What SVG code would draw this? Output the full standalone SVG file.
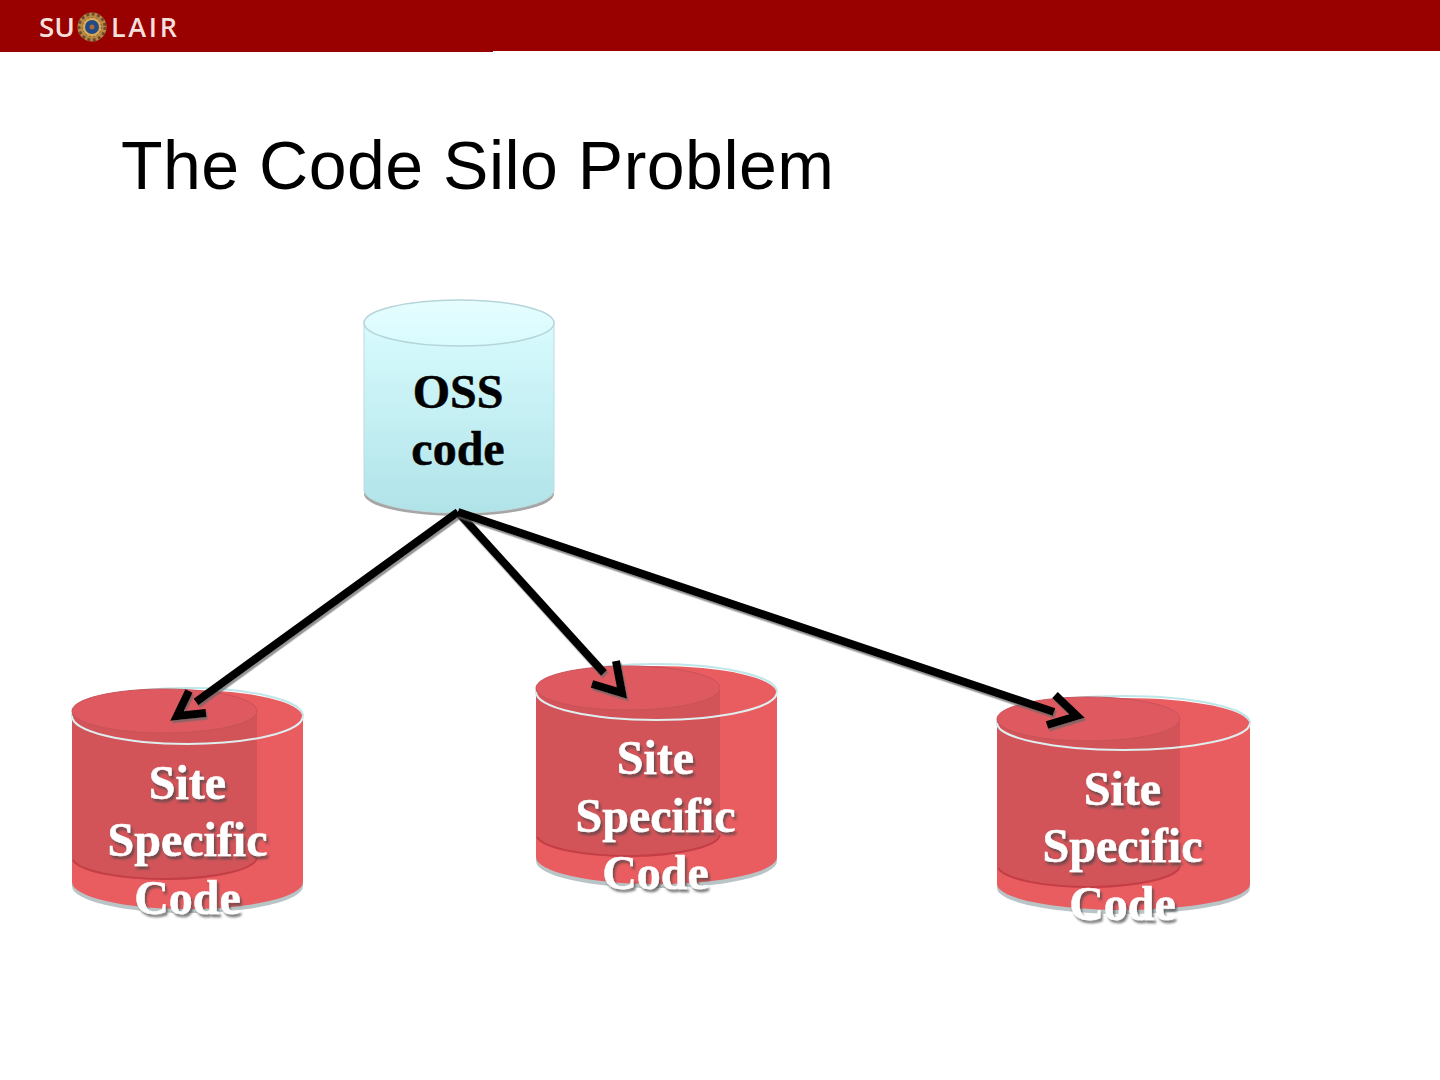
<svg xmlns="http://www.w3.org/2000/svg" width="1440" height="1080" viewBox="0 0 1440 1080">
<style>
.lbl{font-family:"Liberation Serif","Times New Roman",serif;font-weight:700;font-size:48px;text-anchor:middle;stroke-width:.5}
.k{fill:#000;stroke:#000}
.w{fill:#fff;stroke:#fff;filter:url(#ts)}
.rim{fill:#e95c60}
.rimline{fill:none;stroke:#dfeeee;stroke-width:2}
.rimtop{fill:none;stroke:#bfe6e8;stroke-width:2}
.body{fill:#e95c60}
.inner{fill:#c44f55;opacity:.62}
.innerbot{fill:none;stroke:#c43e46;stroke-width:2}
.innertop{fill:#df5a60;stroke:#c8525a;stroke-width:1}
.base{fill:#b9c4c6}
.conn{fill:none;stroke:#000;stroke-width:8;stroke-linejoin:miter;filter:url(#as)}
.logo{font-family:"Open Sans","Liberation Sans",sans-serif;font-size:27px;font-weight:600;fill:#f5dfda}
</style>
<defs>
<linearGradient id="cyan" x1="0" y1="0" x2="0" y2="1"><stop offset="0" stop-color="#d8fbfe"/><stop offset="1" stop-color="#b0e3e8"/></linearGradient>
<linearGradient id="cyantop" x1="0" y1="0" x2="0" y2="1"><stop offset="0" stop-color="#e6fdff"/><stop offset="1" stop-color="#d8fbfe"/></linearGradient>
<filter id="ts" x="-10%" y="-10%" width="125%" height="130%"><feDropShadow dx="2" dy="3" stdDeviation="1" flood-color="#444" flood-opacity=".7"/></filter>
<filter id="as" x="-5%" y="-5%" width="110%" height="110%"><feDropShadow dx="1.500" dy="2.500" stdDeviation=".7" flood-color="#666" flood-opacity=".7"/></filter>
</defs>
<rect width="1440" height="51" fill="#990000"/>
<rect y="51" width="493" height="1" fill="#990000"/>
<g id="logo">
<text class="logo" x="39" y="37" textLength="36" lengthAdjust="spacingAndGlyphs">SU</text>
<circle cx="92" cy="27" r="14.500" fill="#b98a45"/>
<circle cx="92" cy="27" r="13" fill="none" stroke="#6e4a2e" stroke-width="3" stroke-dasharray="3 2.500"/>
<circle cx="92" cy="27" r="9.500" fill="#d9ab55" stroke="#8a5a30" stroke-dasharray="2 2"/>
<circle cx="92" cy="27" r="7" fill="#234a86"/>
<circle cx="92" cy="27" r="2.500" fill="#a86a40"/>
<text class="logo" x="111" y="37" textLength="66" lengthAdjust="spacing">LAIR</text>
</g>
<text id="title" x="121" y="189" font-family="'Liberation Sans',Arial,sans-serif" font-size="68" fill="#000" textLength="713" lengthAdjust="spacing">The Code Silo Problem</text>
<g id="oss">
<path d="M364 492V323H554V492A95 22 0 0 1 364 492Z" fill="#a6a6a6" transform="translate(0 2)"/>
<path d="M364 323V490A95 23 0 0 0 554 490V323Z" fill="url(#cyan)" stroke="#bcdcdf" stroke-width="1"/>
<ellipse cx="459" cy="323" rx="95" ry="23" fill="url(#cyantop)" stroke="#b5d5d8" stroke-width="1.500"/>
<text class="lbl k" x="458" y="408">OSS</text>
<text class="lbl k" x="458" y="465">code</text>
</g>
<g id="site1">
<path d="M72 716V883A115.500 27 0 0 0 303 883V716Z" class="base" transform="translate(0 3)"/>
<ellipse cx="187.500" cy="716" rx="115.500" ry="28" class="rimtop"/>
<path d="M72 716V882A115.500 27 0 0 0 303 882V716Z" class="body"/>
<ellipse cx="187.500" cy="717" rx="115" ry="27" class="rim"/>
<path d="M72 711V858A92.500 22 0 0 0 257 858V711Z" class="inner"/>
<path d="M73 860A92.500 22 0 0 0 257 858" class="innerbot"/>
<path d="M72 711A92.500 22 0 0 1 257 711A92.500 22 0 0 1 72 711Z" class="innertop"/>
<path d="M72 716A115.500 28 0 0 0 303 716" class="rimline"/>
<text class="lbl w" x="187.500" y="799">Site</text><text class="lbl w" x="187.500" y="856">Specific</text><text class="lbl w" x="187.500" y="914">Code</text>
</g>
<g id="site2">
<path d="M536 692V858A120.500 27 0 0 0 777 858V692Z" class="base" transform="translate(0 3)"/>
<ellipse cx="656.500" cy="692" rx="120.500" ry="28" class="rimtop"/>
<path d="M536 692V857A120.500 27 0 0 0 777 857V692Z" class="body"/>
<ellipse cx="656.500" cy="693" rx="120" ry="27" class="rim"/>
<path d="M536 688V835A92 22 0 0 0 720 835V688Z" class="inner"/>
<path d="M537 837A92 22 0 0 0 720 835" class="innerbot"/>
<path d="M536 688A92 22 0 0 1 720 688A92 22 0 0 1 536 688Z" class="innertop"/>
<path d="M536 692A120.500 28 0 0 0 777 692" class="rimline"/>
<text class="lbl w" x="655.500" y="774">Site</text><text class="lbl w" x="655.500" y="832">Specific</text><text class="lbl w" x="655.500" y="889">Code</text>
</g>
<g id="site3">
<path d="M997 723V885A126.500 26 0 0 0 1250 885V723Z" class="base" transform="translate(0 3)"/>
<ellipse cx="1123.500" cy="723" rx="126.500" ry="27" class="rimtop"/>
<path d="M997 723V884A126.500 26 0 0 0 1250 884V723Z" class="body"/>
<ellipse cx="1123.500" cy="724" rx="126" ry="26" class="rim"/>
<path d="M997 719V866A91.500 22 0 0 0 1180 866V719Z" class="inner"/>
<path d="M998 868A91.500 22 0 0 0 1180 866" class="innerbot"/>
<path d="M997 719A91.500 22 0 0 1 1180 719A91.500 22 0 0 1 997 719Z" class="innertop"/>
<path d="M997 723A126.500 27 0 0 0 1250 723" class="rimline"/>
<text class="lbl w" x="1122.500" y="805">Site</text><text class="lbl w" x="1122.500" y="862">Specific</text><text class="lbl w" x="1122.500" y="920">Code</text>
</g>
<g id="connectors">
<path class="conn" d="M458 512L196 702M189 691L177 716L206 713"/>
<path class="conn" d="M458 512L604 673M616 661L622 693L592 684"/>
<path class="conn" d="M458 512L1054 712M1055 695L1077 716L1047 725"/>
</g>
</svg>
